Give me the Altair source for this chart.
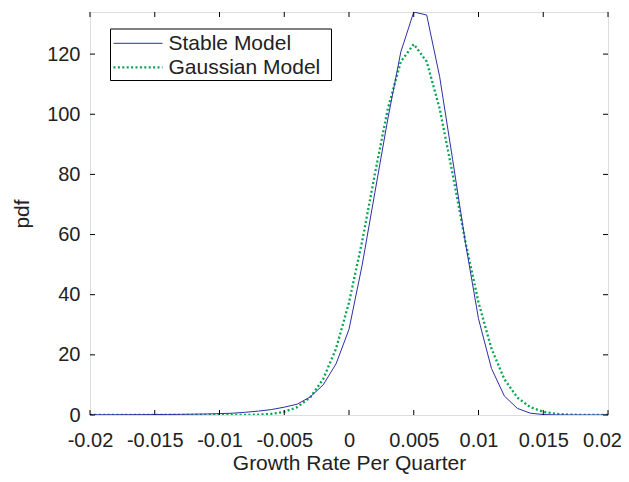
import altair as alt
import pandas as pd

x_vals = [-0.020, -0.019, -0.018, -0.017, -0.016, -0.015, -0.014, -0.013, -0.012, -0.011,
          -0.010, -0.009, -0.008, -0.007, -0.006, -0.005, -0.004, -0.003, -0.002, -0.001,
          0.000, 0.001, 0.002, 0.003, 0.004, 0.005, 0.006, 0.007, 0.008, 0.009,
          0.010, 0.011, 0.012, 0.013, 0.014, 0.015, 0.016, 0.017, 0.018, 0.019, 0.020]

stable = [0.07, 0.08, 0.09, 0.10, 0.12, 0.15, 0.18, 0.22, 0.28, 0.35,
          0.45, 0.6, 0.9, 1.3, 1.8, 2.6, 3.6, 6.0, 10.0, 17.0,
          28.5, 49.5, 74.0, 98.5, 120.7, 134.0, 133.0, 112.5, 85.0, 57.0,
          32.0, 15.5, 6.3, 2.2, 0.6, 0.15, 0.05, 0.02, 0.01, 0.0, 0.0]

gaussian = [0.0, 0.0, 0.0, 0.0, 0.0, 0.0, 0.0, 0.0, 0.0, 0.0,
            0.0, 0.0, 0.03, 0.12, 0.38, 1.05, 2.6, 5.8, 11.9, 22.1,
            37.4, 57.4, 80.2, 101.9, 117.5, 123.3, 117.5, 101.9, 80.2, 57.4,
            37.4, 22.1, 11.9, 5.8, 2.6, 1.05, 0.38, 0.12, 0.03, 0.0, 0.0]

series_names = ["Stable Model", "Gaussian Model"]
series_colors = ["#2e2ea6", "#00a651"]

x_ticks = [-0.02, -0.015, -0.01, -0.005, 0, 0.005, 0.01, 0.015, 0.02]
y_ticks = [0, 20, 40, 60, 80, 100, 120]

W, H = 518, 403
FONT = "Liberation Sans"
FS = 20
FS2 = 21
TXT = "#222222"

rows = []
for xv, s, g in zip(x_vals, stable, gaussian):
    rows.append({"x": xv, "pdf": s, "series": series_names[0]})
    rows.append({"x": xv, "pdf": g, "series": series_names[1]})
df = pd.DataFrame(rows)

xscale = alt.Scale(domain=[-0.02, 0.02], nice=False, zero=False)
yscale = alt.Scale(domain=[0, 134], nice=False)

xaxis = alt.Axis(values=x_ticks, labelExpr="'' + datum.value", grid=False, domain=False,
                 ticks=False, labelPadding=15, labelFontSize=FS, labelFont=FONT, labelColor=TXT,
                 labelOffset={"condition": {"test": "datum.value >= 0.02", "value": -6}, "value": 0},
                 title="Growth Rate Per Quarter", titleFontSize=FS2, titleFont=FONT, titleColor=TXT,
                 titleFontWeight="normal", titlePadding=2, labelFlush=False)
yaxis = alt.Axis(values=y_ticks, grid=False, domain=False, ticks=False, labelPadding=10,
                 labelFontSize=FS, labelFont=FONT, labelColor=TXT, title="pdf", titleFontSize=FS2,
                 titleFont=FONT, titleColor=TXT, titleFontWeight="normal", titlePadding=14)

base = alt.Chart(df)

stable_line = base.transform_filter(alt.datum.series == series_names[0]).mark_line(
    color=series_colors[0], strokeWidth=1, clip=True
).encode(x=alt.X("x:Q", scale=xscale, axis=xaxis), y=alt.Y("pdf:Q", scale=yscale, axis=yaxis))

gauss_line = base.transform_filter(alt.datum.series == series_names[1]).mark_line(
    color=series_colors[1], strokeWidth=2.3, strokeDash=[2, 2.4], clip=True
).encode(x=alt.X("x:Q", scale=xscale), y=alt.Y("pdf:Q", scale=yscale))

xt = pd.DataFrame({"t": x_ticks})
yt = pd.DataFrame({"t": y_ticks})
TL = 5
ticks_bottom = alt.Chart(xt).mark_rule(color="black", strokeWidth=1).encode(
    x=alt.X("t:Q", scale=xscale), y=alt.value(H), y2=alt.value(H - TL))
ticks_top = alt.Chart(xt).mark_rule(color="black", strokeWidth=1).encode(
    x=alt.X("t:Q", scale=xscale), y=alt.value(0), y2=alt.value(TL))
ticks_left = alt.Chart(yt).mark_rule(color="black", strokeWidth=1).encode(
    y=alt.Y("t:Q", scale=yscale), x=alt.value(0), x2=alt.value(TL))
ticks_right = alt.Chart(yt).mark_rule(color="black", strokeWidth=1).encode(
    y=alt.Y("t:Q", scale=yscale), x=alt.value(W), x2=alt.value(W - TL))

# legend
leg_box = alt.Chart(pd.DataFrame({"a": [0]})).mark_rect(
    fill="white", stroke="black", strokeWidth=1
).encode(x=alt.value(20.5), x2=alt.value(241.5), y=alt.value(17), y2=alt.value(68.5))

leg_df = pd.DataFrame({"name": series_names})
leg_s = alt.Chart(leg_df.iloc[[0]]).mark_rule(color=series_colors[0], strokeWidth=1).encode(
    x=alt.value(23.5), x2=alt.value(72.5), y=alt.value(31.3))
leg_g = alt.Chart(leg_df.iloc[[1]]).mark_rule(color=series_colors[1], strokeWidth=2.3,
                                               strokeDash=[2, 2.4]).encode(
    x=alt.value(23.5), x2=alt.value(72.5), y=alt.value(55.3))
leg_t1 = alt.Chart(leg_df.iloc[[0]]).mark_text(align="left", baseline="middle", font=FONT,
                                               fontSize=FS2, color=TXT).encode(
    x=alt.value(78.5), y=alt.value(32), text="name:N")
leg_t2 = alt.Chart(leg_df.iloc[[1]]).mark_text(align="left", baseline="middle", font=FONT,
                                               fontSize=FS2, color=TXT).encode(
    x=alt.value(78.5), y=alt.value(56), text="name:N")

chart = alt.layer(
    gauss_line, stable_line, ticks_bottom, ticks_top, ticks_left, ticks_right,
    leg_box, leg_s, leg_g, leg_t1, leg_t2
).properties(
    width=W, height=H, autosize=alt.AutoSizeParams(type="none"),
    padding={"left": 82, "top": 4, "right": 13, "bottom": 59}
).configure_view(stroke="black", strokeWidth=1).configure(background="white")

chart.save("out.html", embed_options={"renderer": "svg", "actions": False})
